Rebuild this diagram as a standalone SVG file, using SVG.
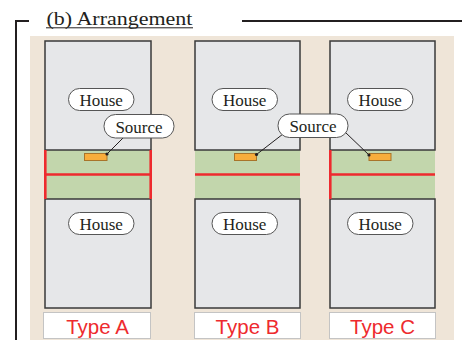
<svg xmlns="http://www.w3.org/2000/svg" width="462" height="340" viewBox="0 0 462 340">
<style>
.frame{stroke:#231f20;stroke-width:2;fill:none}
.house{fill:#e6e7e9;stroke:#3a3a3a;stroke-width:1.5}
.strip{fill:#c2d6ac}
.red{stroke:#ee2a2e;stroke-width:2.6;fill:none}
.bub{fill:#ffffff;stroke:#555555;stroke-width:1}
.btxt{font-family:"Liberation Serif","Times New Roman",serif;font-size:17px;fill:#231f20;text-anchor:middle}
.src{fill:#f8ad3b;stroke:#a8742a;stroke-width:1}
.lead{stroke:#231f20;stroke-width:1;fill:none}
.lbl{fill:#ffffff;stroke:#c4c4c4;stroke-width:1}
.ltxt{font-family:"Liberation Sans",Arial,sans-serif;font-size:20.5px;fill:#ee2a2e;text-anchor:middle}
</style>
<rect x="0" y="0" width="462" height="340" fill="#ffffff"/>
<g id="frame">
<path class="frame" d="M29 21 H16 V340"/>
<path class="frame" d="M242 21 H462"/>
<text x="46.5" y="25" font-family="Liberation Serif,'Times New Roman',serif" font-size="19.5" fill="#231f20" textLength="146" lengthAdjust="spacingAndGlyphs">(b) Arrangement</text>
<line x1="46" y1="27.8" x2="193" y2="27.8" stroke="#231f20" stroke-width="1"/>
</g>
<rect id="background" x="30" y="36" width="424" height="304" fill="#efe5d8"/>
<g id="typeA">
<rect class="strip" x="45" y="150" width="106" height="49"/>
<rect class="house" x="45" y="41" width="106" height="109"/>
<rect class="house" x="45" y="199" width="106" height="109"/>
<path class="red" d="M45.3 150 V199 M150.7 150 V199 M45.3 174.5 H150.7"/>
<rect class="src" x="84.5" y="153.5" width="22.5" height="7"/>
<rect class="lbl" x="43.5" y="312.5" width="107" height="26"/>
<text class="ltxt" x="97.5" y="334">Type A</text>
</g>
<g id="typeB">
<rect class="strip" x="195" y="150" width="105" height="49"/>
<rect class="house" x="195" y="41" width="105" height="109"/>
<rect class="house" x="195" y="199" width="105" height="109"/>
<path class="red" d="M195 174.5 H300"/>
<rect class="src" x="234.5" y="153.5" width="22" height="7"/>
<rect class="lbl" x="194.5" y="312.5" width="106" height="26"/>
<text class="ltxt" x="247.5" y="334">Type B</text>
</g>
<g id="typeC">
<rect class="strip" x="330" y="150" width="105" height="49"/>
<rect class="house" x="330" y="41" width="105" height="109"/>
<rect class="house" x="330" y="199" width="105" height="109"/>
<path class="red" d="M330.3 150 V199 M330.3 174.5 H435"/>
<rect class="src" x="369" y="153.5" width="22" height="7"/>
<rect class="lbl" x="329.5" y="312.5" width="106" height="26"/>
<text class="ltxt" x="382.5" y="334">Type C</text>
</g>
<g id="connectors">
<path class="lead" d="M124 137 L107 154"/>
<circle cx="107" cy="154" r="1.6" fill="#231f20"/>
<path class="lead" d="M283 134 L256.5 154.5"/>
<circle cx="256.5" cy="154.5" r="1.6" fill="#231f20"/>
<path class="lead" d="M345 132 L369 155"/>
<circle cx="369" cy="155" r="1.6" fill="#231f20"/>
</g>
<g id="houseLabels">
<g id="houseA1"><rect class="bub" x="68.5" y="88.5" width="65.5" height="22" rx="11"/><text class="btxt" x="101.2" y="106">House</text></g>
<g id="houseA2"><rect class="bub" x="68.5" y="212.5" width="65.5" height="22" rx="11"/><text class="btxt" x="101.2" y="230">House</text></g>
<g id="houseB1"><rect class="bub" x="212" y="88.5" width="65.5" height="22" rx="11"/><text class="btxt" x="244.7" y="106">House</text></g>
<g id="houseB2"><rect class="bub" x="212" y="212.5" width="65.5" height="22" rx="11"/><text class="btxt" x="244.7" y="230">House</text></g>
<g id="houseC1"><rect class="bub" x="347.5" y="88.5" width="65.5" height="22" rx="11"/><text class="btxt" x="380.2" y="106">House</text></g>
<g id="houseC2"><rect class="bub" x="347.5" y="212.5" width="65.5" height="22" rx="11"/><text class="btxt" x="380.2" y="230">House</text></g>
</g>
<g id="sourceA"><rect class="bub" x="104" y="114.5" width="70" height="23.5" rx="11.5"/><text class="btxt" x="139" y="132.5">Source</text></g>
<g id="sourceBC"><rect class="bub" x="278" y="114" width="70" height="23.5" rx="11.5"/><text class="btxt" x="313" y="132">Source</text></g>
</svg>
